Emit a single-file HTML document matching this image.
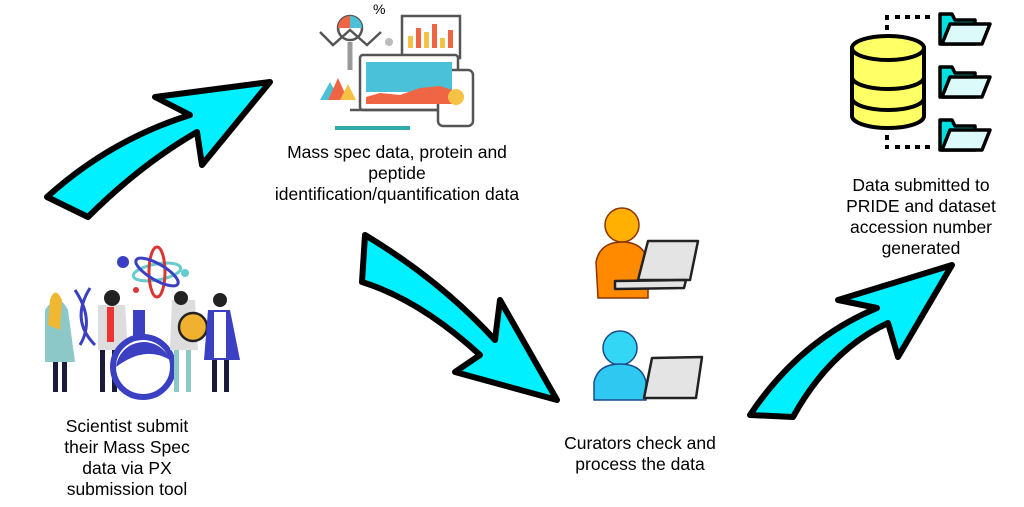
<!DOCTYPE html>
<html><head><meta charset="utf-8"><style>
html,body{margin:0;padding:0;background:#fff;}
svg{display:block;}
text{font-family:"Liberation Sans",Arial,sans-serif;font-size:17.5px;fill:#000;}
</style></head><body>
<svg width="1024" height="507" viewBox="0 0 1024 507" xmlns="http://www.w3.org/2000/svg">
<g fill="#00f0ff" stroke="#000" stroke-width="6" stroke-linejoin="round">
<path d="M47,197 Q110,140 190,115 L155,97 L270,82 L202,165 L197,132 Q140,165 88,217 Z"/>
<path d="M365,235 Q440,280 495,340 L500,300 L557,400 L455,372 L480,355 Q420,300 362,282 Z"/>
<path d="M750,415 Q800,340 877,308 L838,300 L952,265 L898,357 L888,323 Q830,350 793,417 Z"/>
</g>
<g stroke="#555" stroke-width="2.5" fill="none">
<rect x="402" y="16" width="58" height="42" fill="#fff"/>
<rect x="360" y="55" width="98" height="55" rx="3" fill="#fff"/>
<line x1="350" y1="110" x2="450" y2="110"/>
<rect x="438" y="70" width="35" height="56" rx="5" fill="#fff"/>
<circle cx="350" cy="28" r="12" fill="#fff"/>
<line x1="350" y1="42" x2="350" y2="70" stroke="#999" stroke-width="5"/>
<polyline points="320,32 333,45 350,30 367,45 381,32"/>
<line x1="335" y1="128" x2="410" y2="128" stroke="#3aa" stroke-width="4"/>
</g>
<path d="M350,16 A12,12 0 0 1 362,28 L350,28 Z" fill="#4bc0d9"/>
<path d="M350,16 A12,12 0 0 0 338,28 L350,28 Z" fill="#f06543"/>
<rect x="366" y="62" width="86" height="30" fill="#4bc0d9"/>
<path d="M366,97 L380,93 L400,95 L420,88 L440,86 L452,90 L452,104 L366,104 Z" fill="#f06543"/>
<g fill="#f6c244"><rect x="408" y="36" width="5" height="12"/><rect x="424" y="32" width="5" height="16"/><rect x="440" y="38" width="5" height="10"/></g>
<g fill="#f06543"><rect x="416" y="28" width="5" height="20"/><rect x="432" y="24" width="5" height="24"/><rect x="448" y="30" width="5" height="18"/></g>
<path d="M320,100 L330,82 L340,100 Z" fill="#4bc0d9"/><path d="M328,100 L338,78 L348,100 Z" fill="#f06543"/><path d="M340,100 L348,84 L356,100 Z" fill="#f6c244"/>
<circle cx="456" cy="97" r="8" fill="#f6c244"/>
<text x="373" y="14" style="font-size:14px">%</text>
<circle cx="389" cy="42" r="4" fill="#bbb"/>
<g stroke="#000" stroke-width="4">
<path d="M852,48 L852,116 A36,12 0 0 0 924,116 L924,48 Z" fill="#ffff66"/>
<ellipse cx="888" cy="48" rx="36" ry="12" fill="#ffff66"/>
<path d="M852,77 A36,12 0 0 0 924,77 M852,98 A36,12 0 0 0 924,98" fill="none"/>
</g>
<g fill="#000"><rect x="885" y="15" width="4" height="5"/><rect x="895" y="15" width="5" height="4"/><rect x="905" y="15" width="5" height="4"/><rect x="915" y="15" width="5" height="4"/><rect x="925" y="15" width="5" height="4"/><rect x="885" y="25" width="4" height="5"/><rect x="885" y="135" width="4" height="5"/><rect x="885" y="145" width="4" height="4"/><rect x="895" y="145" width="5" height="4"/><rect x="905" y="145" width="5" height="4"/><rect x="915" y="145" width="5" height="4"/><rect x="925" y="145" width="5" height="4"/></g>
<g stroke="#000" stroke-width="3.5" stroke-linejoin="round">
<path d="M940,14 L952,14 L955,20 L975,20 L975,44 L940,44 Z" fill="#00e0e0"/><path d="M950,24 L990,24 L982,44 L942,44 Z" fill="#ddfafa"/>
<path d="M940,67 L952,67 L955,73 L975,73 L975,97 L940,97 Z" fill="#00e0e0"/><path d="M950,77 L990,77 L982,97 L942,97 Z" fill="#ddfafa"/>
<path d="M940,120 L952,120 L955,126 L975,126 L975,150 L940,150 Z" fill="#00e0e0"/><path d="M950,130 L990,130 L982,150 L942,150 Z" fill="#ddfafa"/>
</g>
<g stroke="#8a3300" stroke-width="1.5"><circle cx="622" cy="225" r="17" fill="#ffb000"/><path d="M598,298 L596,262 Q600,242 622,242 Q644,242 648,262 L648,298 Z" fill="#ff8a00"/></g>
<g stroke="#1a4a8a" stroke-width="1.5"><circle cx="620" cy="348" r="17" fill="#33d6f5"/><path d="M594,400 L594,382 Q598,364 620,364 Q642,364 646,382 L646,400 Z" fill="#2ec8f0"/></g>
<g stroke="#222" stroke-width="2.5" stroke-linejoin="round" fill="#e4e4e4">
<path d="M648,241 L698,241 L690,280 L638,280 Z"/><path d="M615,281 L686,280 L684,288 L615,289 Z"/>
<path d="M652,358 L702,357 L696,398 L644,398 Z"/>
</g>
<circle cx="123" cy="262" r="6" fill="#3b3fc2"/><circle cx="185" cy="273" r="4" fill="#6cc"/><circle cx="136" cy="290" r="3" fill="#d33"/>
<g fill="none" stroke-width="3"><ellipse cx="157" cy="272" rx="24" ry="8" stroke="#6cc" transform="rotate(-10 157 272)"/><ellipse cx="157" cy="272" rx="8" ry="25" stroke="#d33"/><ellipse cx="157" cy="272" rx="24" ry="8" stroke="#3b3fc2" transform="rotate(30 157 272)"/></g>
<path d="M75,290 Q95,320 80,345 M90,288 Q70,320 95,345" stroke="#3b3fc2" stroke-width="3" fill="none"/>
<path d="M45,310 Q58,290 68,310 L75,362 L45,362 Z" fill="#8dc8c8"/><path d="M50,300 Q55,285 62,300 L60,330 L48,325 Z" fill="#f0b830"/>
<rect x="53" y="362" width="5" height="30" fill="#1a1a3a"/><rect x="62" y="362" width="5" height="30" fill="#1a1a3a"/>
<path d="M98,305 L125,305 L128,350 L98,350 Z" fill="#ddd"/><rect x="107" y="307" width="7" height="35" fill="#e33"/><circle cx="112" cy="298" r="8" fill="#222"/>
<rect x="100" y="350" width="5" height="42" fill="#1a1a3a"/><rect x="112" y="350" width="5" height="42" fill="#1a1a3a"/>
<circle cx="143" cy="367" r="30" fill="#fff" stroke="#3b3fc2" stroke-width="6"/><path d="M116,367 A28,28 0 0 1 170,360 Q145,345 116,367 Z" fill="#3b3fc2"/><rect x="133" y="310" width="12" height="30" fill="#3b3fc2"/>
<path d="M172,300 L195,300 L198,350 L170,350 Z" fill="#ddd"/><circle cx="181" cy="298" r="7" fill="#222"/>
<rect x="174" y="350" width="5" height="42" fill="#8dc8c8"/><rect x="186" y="350" width="5" height="42" fill="#8dc8c8"/>
<circle cx="193" cy="327" r="14" fill="#f0b030" stroke="#222" stroke-width="2.5"/>
<path d="M208,310 L230,310 L240,360 L204,360 Z" fill="#3b3fc2"/><rect x="214" y="312" width="12" height="46" fill="#fff"/><circle cx="220" cy="300" r="7" fill="#222"/>
<rect x="212" y="360" width="5" height="32" fill="#1a1a3a"/><rect x="224" y="360" width="5" height="32" fill="#1a1a3a"/>
<g text-anchor="middle">
<text x="397" y="158">Mass spec data, protein and</text>
<text x="397" y="179">peptide</text>
<text x="397" y="200">identification/quantification data</text>
<text x="127" y="432">Scientist submit</text>
<text x="127" y="453">their Mass Spec</text>
<text x="127" y="474">data via PX</text>
<text x="127" y="495">submission tool</text>
<text x="640" y="449">Curators check and</text>
<text x="640" y="470">process the data</text>
<text x="921" y="191">Data submitted to</text>
<text x="921" y="212">PRIDE and dataset</text>
<text x="921" y="233">accession number</text>
<text x="921" y="254">generated</text>
</g>
</svg>
</body></html>
